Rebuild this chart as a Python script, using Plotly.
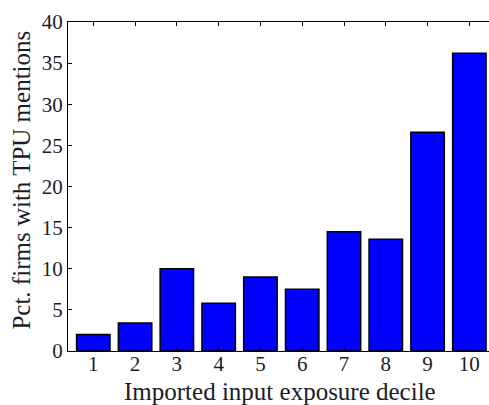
import plotly.graph_objects as go

deciles = [1, 2, 3, 4, 5, 6, 7, 8, 9, 10]
pct_tpu = [2.0, 3.4, 10.0, 5.8, 9.0, 7.5, 14.5, 13.6, 26.6, 36.2]
y_ticks = [0, 5, 10, 15, 20, 25, 30, 35, 40]

x_title = "Imported input exposure decile"
y_title = "Pct. firms with TPU mentions"

FONT = "Liberation Serif"
TXT = "#1c1c28"

fig = go.Figure(go.Bar(
    x=deciles, y=pct_tpu, width=0.8,
    marker=dict(color="#0000ff", line=dict(color="#000000", width=1.5)),
))

fig.update_layout(
    width=489, height=405,
    margin=dict(l=68, r=0, t=22, b=54, autoexpand=False),
    paper_bgcolor="white", plot_bgcolor="white",
    showlegend=False,
    font=dict(family=FONT, size=21, color=TXT),
)
fig.update_xaxes(
    range=[0.395, 10.47], tickvals=deciles, ticktext=[str(d) for d in deciles],
    ticks="inside", ticklen=4, tickwidth=1.2, tickcolor="#000",
    showline=True, linecolor="#000", linewidth=1.2, mirror="ticks",
    showgrid=False, zeroline=False, automargin=False, ticklabelstandoff=-6,
    tickfont=dict(family=FONT, size=21, color=TXT),
)
fig.update_yaxes(
    range=[0, 40], tickvals=y_ticks, ticktext=[str(v) for v in y_ticks],
    ticks="inside", ticklen=4, tickwidth=1.2, tickcolor="#000",
    showline=True, linecolor="#000", linewidth=1.2, mirror=False,
    showgrid=False, zeroline=False, automargin=False,
    tickfont=dict(family=FONT, size=21, color=TXT),
)

fig.add_annotation(
    text=x_title, xref="paper", yref="paper", x=0.5036, y=0,
    xanchor="center", yanchor="middle", yshift=-40, showarrow=False,
    font=dict(family=FONT, size=25, color=TXT),
)
fig.add_annotation(
    text=y_title, xref="paper", yref="paper", x=0, y=0.518,
    xanchor="center", yanchor="middle", xshift=-46, textangle=-90, showarrow=False,
    font=dict(family=FONT, size=25, color=TXT),
)

fig.write_html("out.html", config={"displayModeBar": False},
               post_script="document.body.style.margin='0';")
